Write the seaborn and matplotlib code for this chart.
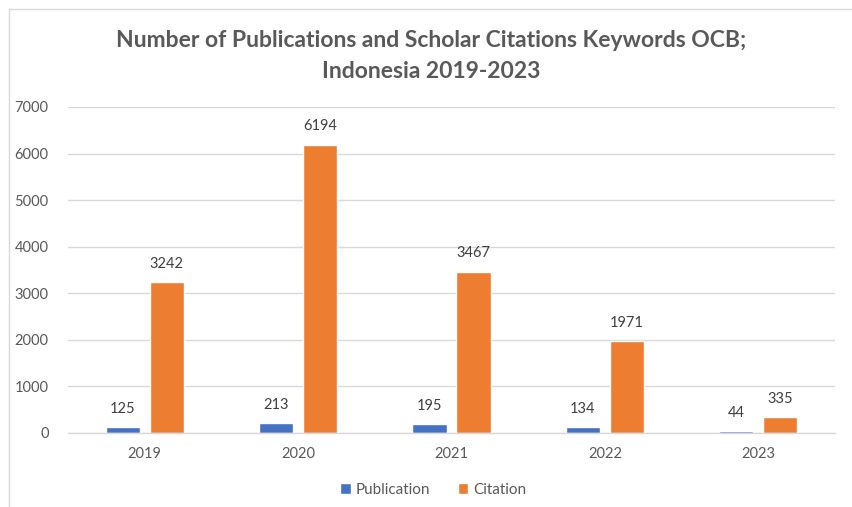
import matplotlib
matplotlib.use("Agg")
import matplotlib.pyplot as plt
import seaborn as sns
import pandas as pd
from matplotlib.patches import Rectangle

years = ["2019", "2020", "2021", "2022", "2023"]
publication = [125, 213, 195, 134, 44]
citation = [3242, 6194, 3467, 1971, 335]
series_names = ["Publication", "Citation"]
colors = ["#4472C4", "#ED7D31"]

df = pd.DataFrame({
    "Year": years * 2,
    "Value": publication + citation,
    "Series": [series_names[0]] * len(years) + [series_names[1]] * len(years),
})

sns.set_theme(style="white")
plt.rcParams['font.family'] = ['Lato', 'DejaVu Sans']

fig = plt.figure(figsize=(8.53, 5.07), dpi=100)
ax = fig.add_axes([68/853, 1-433/507, (835-68)/853, (433-107)/507])

sns.barplot(data=df, x="Year", y="Value", hue="Series", palette=colors,
            width=0.574, gap=0.226, ax=ax, legend=True, saturation=1)

gray = "#595959"
ax.set_ylim(0, 7000)
ax.set_yticks(range(0, 7001, 1000))
ax.yaxis.grid(True, color="#D9D9D9", linewidth=1)
ax.set_axisbelow(True)
for s in ["top", "right", "left"]:
    ax.spines[s].set_visible(False)
ax.spines["bottom"].set_color("#D9D9D9")
ax.spines["bottom"].set_linewidth(1)
ax.tick_params(axis="both", length=0, colors=gray, labelsize=10.5)
ax.tick_params(axis="x", pad=10)
ax.tick_params(axis="y", pad=14)
ax.set_xlabel("")
ax.set_ylabel("")

for cont in ax.containers:
    ax.bar_label(cont, labels=[f"{int(v)}" for v in cont.datavalues],
                 padding=8, color="#404040", fontsize=10.5)

handles, labels = ax.get_legend_handles_labels()
ax.legend_.remove()
fig.legend(handles, labels, loc="center", bbox_to_anchor=(0.508, 1-490/507),
           ncol=2, frameon=False, fontsize=11, labelcolor=gray,
           handlelength=0.7, handleheight=0.7, handletextpad=0.3, columnspacing=1.8)

fig.text(0.506, 1-56/507, "Number of Publications and Scholar Citations Keywords OCB;\nIndonesia 2019-2023",
         ha="center", va="center", fontsize=16.5, fontweight="bold", color=gray,
         linespacing=1.6)

fig.patches.append(Rectangle((9/853, -0.05), 1.2, 1-9/507 + 0.05, transform=fig.transFigure,
                             fill=False, edgecolor="#D9D9D9", linewidth=1))

fig.savefig("out.png", dpi=100)
